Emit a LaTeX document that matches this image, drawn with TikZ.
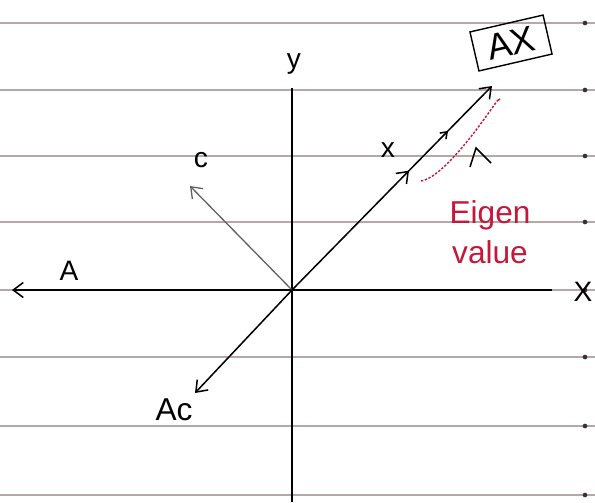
\documentclass[tikz,border=0pt]{standalone}
\usepackage{fontspec}
\setmainfont{Liberation Sans}
\usetikzlibrary{
    arrows.meta,
    positioning,
    decorations.markings,
    calc
}
\definecolor{ruleline}{RGB}{182,168,168}
\definecolor{eigenred}{RGB}{196,24,58}
\definecolor{vecgray}{RGB}{95,95,95}

\begin{document}
\begin{tikzpicture}[
    x=0.03cm, y=-0.03cm,
    hand/.style={
        font=\fontsize{24}{26}\selectfont,
        inner sep=1pt
    },
    axisline/.style={
        line width=1.3pt,
        draw=black
    },
    vecarrow/.style={
        line width=1.3pt,
        -{Straight Barb[length=3mm,width=4.5mm]}
    },
    midarrows/.style={
        postaction={decorate},
        decoration={
            markings,
            mark=at position 0.585 with {\arrow{Straight Barb[length=3mm,width=4.5mm]}},
            mark=at position 0.78 with {\arrow{Straight Barb[length=1.8mm,width=2.6mm]}}
        }
    },
    eigencurve/.style={
        draw=eigenred,
        line width=1.2pt,
        dash pattern=on 2pt off 1.4pt
    }
]

\useasboundingbox (0,0) rectangle (595,502);

% ruled paper
\foreach \ry in {23,90,156,222,290,357,426,495}{
    \draw[ruleline, line width=0.9pt] (0,\ry) -- (595,\ry);
    \fill[black!80] (585,\ry) circle (2pt);
}

% points
\coordinate (origin) at (292,290);
\coordinate (ytop) at (292,88);
\coordinate (ybottom) at (292,502);
\coordinate (xright) at (552,290);
\coordinate (xleft) at (12,290);
\coordinate (ctip) at (190,186);
\coordinate (actip) at (195,393);
\coordinate (axtip) at (492,86);

% axes
\draw[axisline] (ybottom) -- (ytop);
\draw[vecarrow] (xright) -- (xleft);

% vectors
\draw[vecarrow, draw=vecgray, line width=1.1pt] (origin) -- (ctip);
\draw[vecarrow] (origin) -- (actip);
\draw[vecarrow, midarrows] (origin) -- (axtip);

% eigenvalue scaling
\coordinate (eigstart) at (421,181);
\coordinate (eigend) at (497,101);
\draw[eigencurve] (eigstart) .. controls (440,178) and (470,140) .. (eigend);
\draw[eigenred, line width=1.2pt] (eigend) -- ++(3,-2);
\coordinate (hookleft) at (470,167);
\coordinate (hookapex) at (476,148);
\coordinate (hookright) at (491,163);
\draw[line width=1.3pt] (hookleft) -- (hookapex) -- (hookright);

% labels
\node[hand] (ylabel) at (294,64) {y};
\node[hand] (xlabel) at (583,292) {X};
\node[hand] (alabel) at (69,271) {A};
\node[hand] (clabel) at (201,160) {c};
\node[hand] (xveclabel) at (388,150) {x};
\node[hand, font=\fontsize{27}{29}\selectfont] (aclabel) at (174,410) {Ac};
\node[hand, draw, line width=1.2pt, rotate=13, minimum width=2.25cm,
    minimum height=1.2cm, font=\fontsize{31}{33}\selectfont] (axbox) at (511,43) {AX};
\node[hand, text=eigenred, align=center, font=\fontsize{27}{34}\selectfont] (eigenlabel) at (490,232) {Eigen\\value};

\end{tikzpicture}
\end{document}
